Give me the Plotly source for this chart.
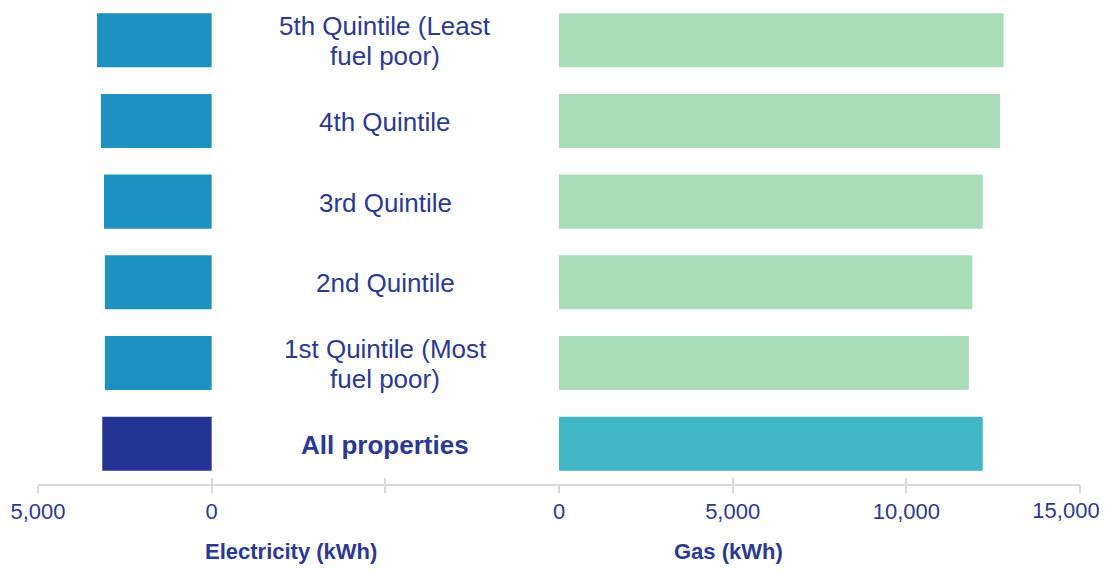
import plotly.graph_objects as go

categories = [
    "All properties",
    "1st Quintile (Most<br>fuel poor)",
    "2nd Quintile",
    "3rd Quintile",
    "4th Quintile",
    "5th Quintile (Least<br>fuel poor)",
]
electricity_kwh = [3150, 3075, 3075, 3100, 3190, 3300]
gas_kwh = [12200, 11800, 11900, 12200, 12700, 12800]

elec_colors = ["#253494"] + ["#1d91c0"] * 5
gas_colors = ["#41b6c4"] + ["#a9dcb8"] * 5

elec_tickvals = [5000, 0, -5000]
elec_ticktext = ["5,000", "0", ""]
gas_tickvals = [0, 5000, 10000, 15000]
gas_ticktext = ["0", "5,000", "10,000", "15,000"]

TEXT = "#2b3990"
FONT = "Arial, Liberation Sans, sans-serif"
AXC = "#d9d9d9"

fig = go.Figure()
fig.add_trace(go.Bar(y=categories, x=electricity_kwh, orientation="h",
                     marker=dict(color=elec_colors, line=dict(width=0)),
                     xaxis="x", yaxis="y", hoverinfo="x+y", showlegend=False))
fig.add_trace(go.Bar(y=categories, x=gas_kwh, orientation="h",
                     marker=dict(color=gas_colors, line=dict(width=0)),
                     xaxis="x2", yaxis="y", hoverinfo="x+y", showlegend=False))
# empty helper traces so the overlay axes (crossing ticks, last label) are drawn
for ax in ["x3", "x4", "x5"]:
    fig.add_trace(go.Scatter(x=[None], y=[None], xaxis=ax, yaxis="y", mode="markers",
                             showlegend=False, hoverinfo="skip"))

common_axis = dict(showgrid=False, zeroline=False, showline=True, linecolor=AXC,
                   linewidth=2, ticks="outside", ticklen=7, tickwidth=2, tickcolor=AXC,
                   tickfont=dict(family=FONT, size=22, color=TEXT), fixedrange=True)

annotations = []
for c in categories:
    bold = c == "All properties"
    lines = c.split("<br>")
    n = len(lines)
    for i, line in enumerate(lines):
        shift = ((n - 1) / 2 - i) * 30 - 1
        annotations.append(dict(
            x=-5000, y=c, xref="x", yref="y", yshift=shift,
            text=f"<b>{line}</b>" if bold else line, showarrow=False,
            font=dict(family=FONT, size=26, color=TEXT), xanchor="center", yanchor="middle"))

annotations.append(dict(x=0.2428, y=-0.1426, xref="paper", yref="paper",
                        text="<b>Electricity (kWh)</b>", showarrow=False,
                        font=dict(family=FONT, size=22, color=TEXT),
                        xanchor="center", yanchor="middle"))
annotations.append(dict(x=0.663, y=-0.1426, xref="paper", yref="paper",
                        text="<b>Gas (kWh)</b>", showarrow=False,
                        font=dict(family=FONT, size=22, color=TEXT),
                        xanchor="center", yanchor="middle"))

main_gas_text = gas_ticktext[:-1] + [""]

fig.update_layout(
    width=1107, height=571,
    margin=dict(l=30, r=35, t=0, b=95),
    paper_bgcolor="white", plot_bgcolor="white",
    bargap=0.33,
    xaxis=dict(domain=[0, 0.5], range=[5000, -10000], tickvals=elec_tickvals,
               ticktext=elec_ticktext, anchor="y", **common_axis),
    xaxis2=dict(domain=[0.5, 1], range=[0, 15000], tickvals=gas_tickvals,
                ticktext=main_gas_text, anchor="y", **common_axis),
    xaxis3=dict(overlaying="x", range=[5000, -10000], tickvals=elec_tickvals,
                showticklabels=False, showgrid=False, zeroline=False, showline=False,
                ticks="inside", ticklen=6, tickwidth=2, tickcolor=AXC, anchor="y",
                side="bottom", fixedrange=True),
    xaxis4=dict(overlaying="x2", range=[0, 15000], tickvals=gas_tickvals,
                showticklabels=False, showgrid=False, zeroline=False, showline=False,
                ticks="inside", ticklen=6, tickwidth=2, tickcolor=AXC, anchor="y",
                side="bottom", fixedrange=True),
    xaxis5=dict(overlaying="x2", range=[0, 15000], tickvals=gas_tickvals[-1:],
                ticktext=gas_ticktext[-1:], showgrid=False, zeroline=False,
                showline=False, ticks="outside", ticklen=7, tickwidth=2, tickcolor=AXC,
                tickfont=dict(family=FONT, size=22, color=TEXT), ticklabelshift=-14,
                ticklabeloverflow="allow", anchor="y", side="bottom", fixedrange=True),
    yaxis=dict(domain=[0, 1], range=[-0.5, 5.4], showticklabels=False, showgrid=False,
               zeroline=False, showline=False, ticks="", fixedrange=True),
    annotations=annotations,
)

fig.write_html("out.html")
